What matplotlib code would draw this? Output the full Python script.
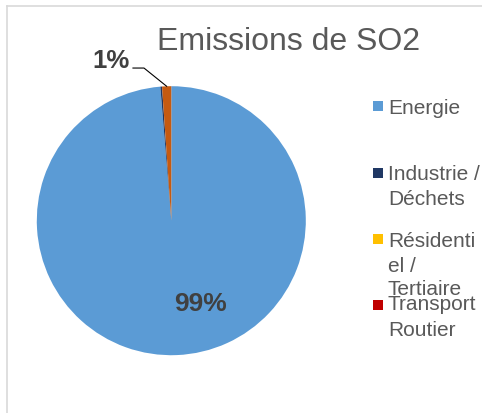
#######################################
# 1. modules
#######################################
import matplotlib
matplotlib.use("Agg")
import matplotlib.pyplot as plt
from matplotlib.patches import Rectangle
from matplotlib.lines import Line2D
import numpy as np

#######################################
# 2. settings / data
#######################################
TITLE = "Emissions de SO2"
CATEGORIES = ["Energie", "Industrie /\nDéchets", "Résidenti\nel /\nTertiaire", "Transport\nRoutier", "Autres"]
VALUES = [98.7, 0.2, 0.0, 0.0, 1.1]
COLORS = ["#5B9BD5", "#203864", "#FFC000", "#C00000", "#C55A11"]
LEGEND_COUNT = 4  # last entry is cut off in the original legend
LABELS = ["99%", "", "", "", "1%"]

W, H = 482, 414
plt.rcParams["font.family"] = ["Liberation Sans", "DejaVu Sans"]


#######################################
# 3. helpers
#######################################
def fx(px):
    return px / W


def fy(py):
    return 1 - py / H


#######################################
# 4. main
#######################################
def main():
    fig = plt.figure(figsize=(W / 100, H / 100), dpi=100)

    # chart frame (only top/left visible)
    fig.add_artist(Line2D([fx(7), fx(W + 5)], [fy(7), fy(7)], color="#D9D9D9", lw=1.2))
    fig.add_artist(Line2D([fx(7), fx(7)], [fy(7), fy(H + 5)], color="#D9D9D9", lw=1.2))

    cx, cy, r = 171.3, 221.7, 134.5
    ax = fig.add_axes([fx(cx - r), fy(cy + r), (2 * r) / W, (2 * r) / H])
    wedges, _ = ax.pie(VALUES, colors=COLORS, startangle=90, counterclock=False,
                       wedgeprops=dict(linewidth=0))
    ax.set_xlim(-1, 1)
    ax.set_ylim(-1, 1)
    ax.set_aspect("equal")
    ax.set_axis_off()

    # data labels
    ax.text(0.215, -0.615, LABELS[0], ha="center", va="center", fontsize=19,
            fontweight="bold", color="#404040")
    w = wedges[4]
    mid = np.deg2rad((w.theta1 + w.theta2) / 2)
    ex, ey = np.cos(mid), np.sin(mid)
    ax.add_line(Line2D([-0.285, -0.203, ex], [1.135, 1.135, ey], color="black", lw=0.8,
                       clip_on=False))
    ax.text(-0.31, 1.195, LABELS[4], ha="right", va="center", fontsize=18.5,
            fontweight="bold", color="#404040", clip_on=False)

    fig.text(fx(289), fy(42), TITLE, ha="center", va="center", fontsize=23, color="#595959")

    # legend: square centre and baseline of each wrapped line
    sq = [107, 173.5, 240, 306]
    baselines = [[114], [180, 205], [247, 271.5, 295.5], [310, 336.5]]
    for i in range(LEGEND_COUNT):
        fig.add_artist(Rectangle((fx(373), fy(sq[i] + 5)), 10 / W, 10 / H,
                                 facecolor=COLORS[i], edgecolor="none"))
        for line, b in zip(CATEGORIES[i].split("\n"), baselines[i]):
            fig.text(fx(388), fy(b), line, ha="left", va="baseline",
                     fontsize=15, color="#595959")

    fig.savefig("out.png", dpi=100)


#######################################
# 5. run
#######################################
if __name__ == "__main__":
    main()
